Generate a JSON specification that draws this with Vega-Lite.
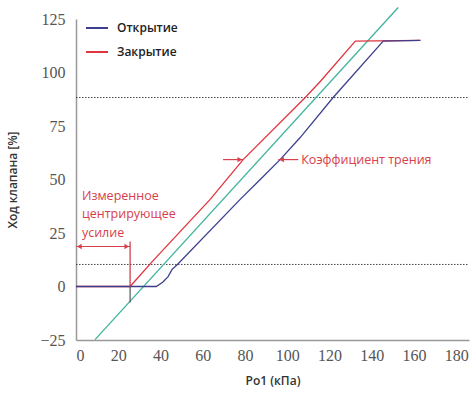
{
  "$schema": "https://vega.github.io/schema/vega-lite/v6.json",
  "width": 393,
  "height": 321,
  "autosize": "none",
  "padding": {"left": 76, "top": 19, "right": 1, "bottom": 54},
  "background": "white",
  "config": {
    "view": {"stroke": null},
    "axis": {"grid": false, "ticks": false, "domainColor": "#999", "domainWidth": 1.5, "labelFont": "Liberation Sans Narrow", "labelFontSize": 16, "labelColor": "#555", "titleFont": "Open Sans", "titleFontSize": 12, "titleFontWeight": 600, "titleColor": "#333"},
    "legend": {"labelFont": "Open Sans", "labelFontSize": 12, "labelFontWeight": 600, "labelColor": "#222"}
  },
  "datasets": {
    "curves": [
      {"series": "Закрытие", "o": 1, "x": 0, "y": 0},
      {"series": "Закрытие", "o": 2, "x": 25.6, "y": 0},
      {"series": "Закрытие", "o": 3, "x": 36.5, "y": 12.1},
      {"series": "Закрытие", "o": 4, "x": 63.5, "y": 40.7},
      {"series": "Закрытие", "o": 5, "x": 79.1, "y": 59.3},
      {"series": "Закрытие", "o": 6, "x": 108.5, "y": 88.3},
      {"series": "Закрытие", "o": 7, "x": 115.6, "y": 95.8},
      {"series": "Закрытие", "o": 8, "x": 132.2, "y": 114.7},
      {"series": "Закрытие", "o": 9, "x": 163, "y": 115},
      {"series": "Открытие", "o": 1, "x": 0, "y": 0},
      {"series": "Открытие", "o": 2, "x": 38, "y": 0},
      {"series": "Открытие", "o": 3, "x": 41, "y": 2},
      {"series": "Открытие", "o": 4, "x": 43.5, "y": 4.5},
      {"series": "Открытие", "o": 5, "x": 45.5, "y": 8},
      {"series": "Открытие", "o": 6, "x": 48, "y": 10.3},
      {"series": "Открытие", "o": 7, "x": 77.7, "y": 40.7},
      {"series": "Открытие", "o": 8, "x": 87.2, "y": 50},
      {"series": "Открытие", "o": 9, "x": 96.6, "y": 59.3},
      {"series": "Открытие", "o": 10, "x": 106.1, "y": 69.6},
      {"series": "Открытие", "o": 11, "x": 121.7, "y": 88.3},
      {"series": "Открытие", "o": 12, "x": 145.4, "y": 114.7},
      {"series": "Открытие", "o": 13, "x": 163, "y": 115}
    ],
    "green": [
      {"x": 9, "y": -24.8},
      {"x": 152.5, "y": 130.4}
    ],
    "refs": [{"y": 88.3}, {"y": 10.3}],
    "hrules": [
      {"x": 0, "x2": 25.6, "y": 18.7},
      {"x": 69.6, "x2": 79.1, "y": 59.3},
      {"x": 95.7, "x2": 105.2, "y": 59.3}
    ],
    "heads": [
      {"x": 1.6, "y": 18.7, "dir": "left"},
      {"x": 24.0, "y": 18.7, "dir": "right"},
      {"x": 77.5, "y": 59.3, "dir": "right"},
      {"x": 97.3, "y": 59.3, "dir": "left"}
    ],
    "labels": [
      {"x": 2.8, "y": 42.5, "text": "Измеренное"},
      {"x": 2.8, "y": 34.1, "text": "центрирующее"},
      {"x": 2.8, "y": 25.2, "text": "усилие"},
      {"x": 106.6, "y": 59.3, "text": "Коэффициент трения"}
    ]
  },
  "layer": [
    {
      "data": {"name": "refs"},
      "mark": {"type": "rule", "color": "#444", "strokeDash": [1.5, 1.5], "strokeWidth": 1},
      "encoding": {
        "y": {"field": "y", "type": "quantitative", "scale": {"domain": [-25, 125], "nice": false}, "axis": {"values": [-25, 0, 25, 50, 75, 100, 125], "title": "Ход клапана [%]", "labelPadding": 11, "titlePadding": 20}},
        "x": {"datum": 0, "type": "quantitative", "scale": {"domain": [0, 186], "nice": false}, "axis": {"values": [0, 20, 40, 60, 80, 100, 120, 140, 160, 180], "title": "Ро1 (кПа)", "labelPadding": 7, "titlePadding": 12}},
        "x2": {"datum": 186}
      }
    },
    {
      "data": {"name": "green"},
      "mark": {"type": "line", "color": "#3fb39b", "strokeWidth": 1.3},
      "encoding": {
        "x": {"field": "x", "type": "quantitative"},
        "y": {"field": "y", "type": "quantitative"}
      }
    },
    {
      "data": {"name": "curves"},
      "mark": {"type": "line", "strokeWidth": 1.3},
      "encoding": {
        "x": {"field": "x", "type": "quantitative"},
        "y": {"field": "y", "type": "quantitative"},
        "order": {"field": "o", "type": "quantitative"},
        "color": {"field": "series", "type": "nominal", "scale": {"domain": ["Открытие", "Закрытие"], "range": ["#3d3f8e", "#e0353f"]}, "legend": {"title": null, "orient": "none", "legendX": 9, "legendY": -3, "symbolType": "stroke", "symbolSize": 484, "symbolStrokeWidth": 2, "labelOffset": 8, "rowPadding": 6}}
      }
    },
    {
      "data": {"values": [{"x": 25.6, "y": 21, "y2": 0}]},
      "mark": {"type": "rule", "color": "#c8323c", "strokeWidth": 1.2},
      "encoding": {
        "x": {"field": "x", "type": "quantitative"},
        "y": {"field": "y", "type": "quantitative"},
        "y2": {"field": "y2"}
      }
    },
    {
      "data": {"values": [{"x": 25.6, "y": 0, "y2": -7.5}]},
      "mark": {"type": "rule", "color": "#555", "strokeWidth": 1.2},
      "encoding": {
        "x": {"field": "x", "type": "quantitative"},
        "y": {"field": "y", "type": "quantitative"},
        "y2": {"field": "y2"}
      }
    },
    {
      "data": {"name": "hrules"},
      "mark": {"type": "rule", "color": "#d8404c", "strokeWidth": 1.2},
      "encoding": {
        "x": {"field": "x", "type": "quantitative"},
        "x2": {"field": "x2"},
        "y": {"field": "y", "type": "quantitative"}
      }
    },
    {
      "data": {"name": "heads"},
      "mark": {"type": "point", "filled": true, "color": "#d8404c", "size": 28, "opacity": 1},
      "encoding": {
        "x": {"field": "x", "type": "quantitative"},
        "y": {"field": "y", "type": "quantitative"},
        "shape": {"field": "dir", "type": "nominal", "scale": {"domain": ["left", "right"], "range": ["triangle-left", "triangle-right"]}, "legend": null}
      }
    },
    {
      "data": {"name": "labels"},
      "mark": {"type": "text", "align": "left", "baseline": "middle", "font": "Open Sans", "fontSize": 12.5, "color": "#d8404c"},
      "encoding": {
        "x": {"field": "x", "type": "quantitative"},
        "y": {"field": "y", "type": "quantitative"},
        "text": {"field": "text"}
      }
    }
  ]
}
